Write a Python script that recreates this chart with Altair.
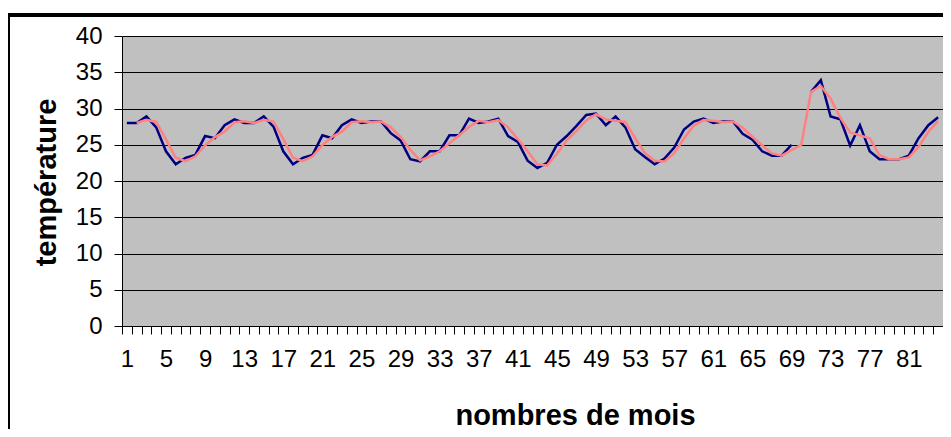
import altair as alt
import pandas as pd

# ---- data ----
months = list(range(1, 85))
temperature = [
    28.0, 28.0, 28.9, 27.4, 24.1, 22.3, 23.2, 23.6, 26.2, 25.9, 27.7, 28.5,
    28.0, 28.0, 28.9, 27.5, 24.1, 22.3, 23.2, 23.6, 26.3, 25.9, 27.7, 28.5,
    28.0, 28.2, 28.2, 26.6, 25.6, 23.0, 22.7, 24.1, 24.1, 26.3, 26.3, 28.6,
    28.0, 28.2, 28.6, 26.2, 25.4, 22.8, 21.8, 22.5, 25.0, 26.2, 27.6, 29.1,
    29.3, 27.7, 28.9, 27.4, 24.4, 23.3, 22.3, 23.1, 24.6, 27.1, 28.2, 28.6,
    28.0, 28.2, 28.2, 26.5, 25.7, 24.1, 23.5, 23.5, 25.0, None, 32.3, 33.9,
    28.9, 28.5, 24.9, 27.7, 24.1, 23.0, 23.0, 23.0, 23.5, 25.9, 27.7, 28.8,
]
avg_months = list(range(2, 85))
moving_avg = [
    28.0, 28.45, 28.15, 25.75, 23.2, 22.75, 23.4, 24.9, 26.05, 26.8, 28.1,
    28.25, 28.0, 28.45, 28.2, 25.8, 23.2, 22.75, 23.4, 24.95, 26.1, 26.8, 28.1,
    28.25, 28.1, 28.2, 27.4, 26.1, 24.3, 22.85, 23.4, 24.1, 25.2, 26.3, 27.45,
    28.3, 28.1, 28.4, 27.4, 25.8, 24.1, 22.3, 22.15, 23.75, 25.6, 26.9, 28.35,
    29.2, 28.5, 28.3, 28.15, 25.9, 23.85, 22.8, 22.7, 23.85, 25.85, 27.65, 28.4,
    28.3, 28.1, 28.2, 27.35, 26.1, 24.9, 23.8, 23.5, 24.25, 25.0, 32.3, 33.1,
    31.4, 28.7, 26.7, 26.3, 25.9, 23.55, 23.0, 23.0, 23.25, 24.7, 26.8, 28.25,
]
y_ticks = [0, 5, 10, 15, 20, 25, 30, 35, 40]
x_label_every = 4
x_title = "nombres de mois"
y_title = "température"

df_temp = pd.DataFrame({"mois": months, "temp": temperature})
df_avg = pd.DataFrame({"mois": avg_months, "temp": moving_avg})

FONT = "Liberation Sans"


def x_enc():
    return alt.X(
        "mois:O",
        scale=alt.Scale(type="band", domain=months, paddingInner=0, paddingOuter=0),
        axis=alt.Axis(
            title=x_title,
            labelExpr=f"(datum.value - 1) % {x_label_every} == 0 ? datum.label : ''",
            labelOverlap=False,
            labelFlush=False,
            labelAngle=0,
            labelFontSize=24,
            labelColor="black",
            labelPadding=13,
            tickBand="extent",
            tickSize=8,
            tickColor="black",
            domainColor="black",
            grid=False,
            titleFontSize=29,
            titleFontWeight="bold",
            titleColor="black",
            titleX=453,
            titleY=89,
            titleBaseline="middle",
            titleAlign="center",
        ),
    )


def y_enc():
    return alt.Y(
        "temp:Q",
        scale=alt.Scale(domain=[0, 40], nice=False),
        axis=alt.Axis(
            title=y_title,
            values=y_ticks,
            labelOverlap=False,
            labelFontSize=24,
            labelColor="black",
            labelPadding=12,
            tickSize=8,
            tickColor="black",
            domainColor="black",
            grid=True,
            gridColor="black",
            gridWidth=1,
            titleFontSize=29,
            titleFontWeight="bold",
            titleColor="black",
            titleAngle=270,
            titleX=-76,
            titleY=146,
            titleBaseline="middle",
            titleAlign="center",
        ),
    )


blue = alt.Chart(df_temp).mark_line(
    color="#000080", strokeWidth=2.5, invalid="break-paths-show-domains"
).encode(x=x_enc(), y=y_enc())

pink = alt.Chart(df_avg).mark_line(color="#FF8080", strokeWidth=2.5).encode(
    x=x_enc(), y=y_enc()
)

frame = alt.Chart(pd.DataFrame({"a": [0]})).mark_rect(
    filled=False, stroke="black", strokeWidth=4
).encode(
    x=alt.value(-114), x2=alt.value(1000), y=alt.value(-21), y2=alt.value(600)
)

chart = (
    alt.layer(blue, pink, frame)
    .properties(
        width=821,
        height=290,
        autosize=alt.AutoSizeParams(type="none"),
        padding={"left": 114, "top": 28, "right": 0, "bottom": 103},
        background="white",
    )
    .configure(font=FONT)
    .configure_view(fill="#C0C0C0", stroke="#808080", strokeWidth=1)
)

chart.save("out.html", embed_options={"renderer": "svg", "actions": False})
